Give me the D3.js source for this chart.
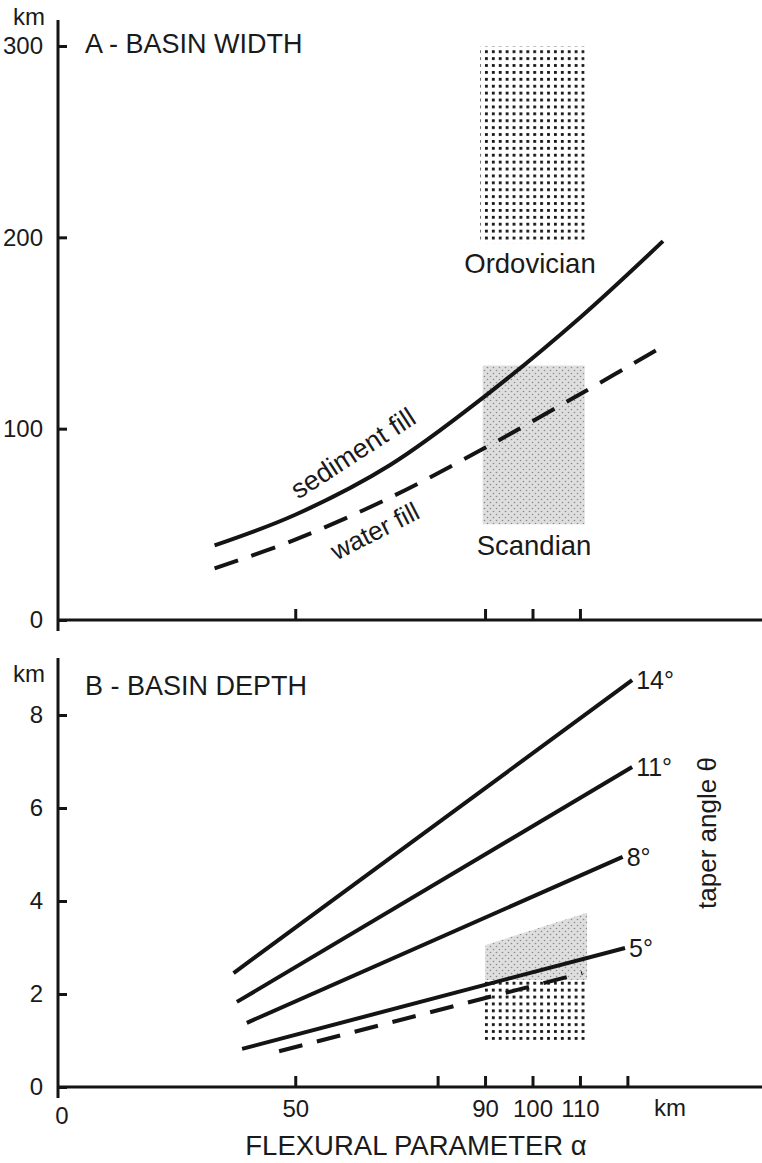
<!DOCTYPE html>
<html>
<head>
<meta charset="utf-8">
<script src="https://cdn.jsdelivr.net/npm/d3@7"></script>
<style>
  body { margin: 0; background: #fff; }
  text { font-family: "Liberation Sans", Arial, sans-serif; fill: #1a1a1a; }
</style>
</head>
<body>
<svg id="chart"></svg>
<script>
// --- data ---
const widthTicks = [0, 100, 200, 300];
const depthTicks = [0, 2, 4, 6, 8];
const alphaTicksA = [50, 90, 100, 110];
const alphaTicksB = [50, 80, 90, 100, 110, 120];
const alphaLabels = [50, 90, 100, 110];

// panel A: basin width (km) vs flexural parameter (km)
const sedimentFill = [[33,39],[50,55],[70,81],[90,117],[110,158],[127.5,198]];
const waterFill = [[33,27],[50,42],[70,64],[90,90],[110,118],[127.5,143]];
const ordovicianBox = {a0: 89, a1: 111, w0: 197, w1: 300};
const scandianBox = {a0: 89.5, a1: 111, w0: 50, w1: 133};

// panel B: basin depth (km) for taper angles
const taperLabels = ["14°", "11°", "8°", "5°"];
const taperLines = [
  [[37,2.45],[121,8.75]],
  [[37.7,1.83],[121,6.88]],
  [[39.8,1.38],[119,4.95]],
  [[38.8,0.82],[119.5,2.99]]
];
const waterDepth = [[46.6,0.77],[110.5,2.45]];
const scandianDepth = [[90,2.3],[90,3.05],[111.5,3.75],[111.5,2.3]];
const ordovicianDepthBox = {a0: 89.6, a1: 111.5, d0: 1.0, d1: 2.3};

const W = 762, H = 1163;
const svg = d3.select("#chart").attr("width", W).attr("height", H);

const defs = svg.append("defs");
const blackDots = defs.append("pattern").attr("id", "blackDots")
  .attr("patternUnits", "userSpaceOnUse").attr("width", 6.9).attr("height", 6.9);
blackDots.append("rect").attr("x", 2).attr("y", 2).attr("width", 2.8).attr("height", 2.8).attr("fill", "#111");

const grayDots = defs.append("pattern").attr("id", "grayDots")
  .attr("patternUnits", "userSpaceOnUse").attr("width", 6).attr("height", 6);
grayDots.append("rect").attr("width", 6).attr("height", 6).attr("fill", "#dedede");
grayDots.append("circle").attr("cx", 1.5).attr("cy", 1.5).attr("r", 0.8).attr("fill", "#8a8a8a");
grayDots.append("circle").attr("cx", 4.5).attr("cy", 4.5).attr("r", 0.8).attr("fill", "#8a8a8a");

const x = d3.scaleLinear().domain([0, 100]).range([58, 532.5]);
const yA = d3.scaleLinear().domain([0, 300]).range([620, 46]);
const yB = d3.scaleLinear().domain([0, 8]).range([1087, 715]);

const ink = "#141414";

// ---------- panel A ----------
const gA = svg.append("g");

gA.append("rect")
  .attr("x", x(scandianBox.a0)).attr("y", yA(scandianBox.w1))
  .attr("width", x(scandianBox.a1) - x(scandianBox.a0))
  .attr("height", yA(scandianBox.w0) - yA(scandianBox.w1))
  .attr("fill", "url(#grayDots)");

gA.append("rect")
  .attr("x", x(ordovicianBox.a0)).attr("y", yA(ordovicianBox.w1))
  .attr("width", x(ordovicianBox.a1) - x(ordovicianBox.a0))
  .attr("height", yA(ordovicianBox.w0) - yA(ordovicianBox.w1))
  .attr("fill", "url(#blackDots)");

const lineA = d3.line().x(d => x(d[0])).y(d => yA(d[1])).curve(d3.curveCatmullRom);

gA.append("path").attr("d", lineA(sedimentFill))
  .attr("fill", "none").attr("stroke", ink).attr("stroke-width", 4);
gA.append("path").attr("d", lineA(waterFill))
  .attr("fill", "none").attr("stroke", ink).attr("stroke-width", 4)
  .attr("stroke-dasharray", "25,14");

// axes A
gA.append("line").attr("x1", 58).attr("x2", 58).attr("y1", 20).attr("y2", 631)
  .attr("stroke", ink).attr("stroke-width", 3);
gA.append("line").attr("x1", 57).attr("x2", W).attr("y1", yA(0)).attr("y2", yA(0))
  .attr("stroke", ink).attr("stroke-width", 3);

gA.append("g").attr("transform", "translate(58,0)")
  .call(d3.axisLeft(yA).tickValues(widthTicks).tickSizeInner(-9).tickSizeOuter(0).tickPadding(15));
gA.append("g").attr("transform", `translate(0,${yA(0)})`)
  .call(d3.axisBottom(x).tickValues(alphaTicksA).tickSizeInner(-11).tickSizeOuter(0).tickFormat(""));

gA.append("text").attr("x", 45).attr("y", 25).attr("text-anchor", "end")
  .style("font-size", "24px").text("km");
gA.append("text").attr("x", 85).attr("y", 53).style("font-size", "27px").text("A - BASIN WIDTH");
gA.append("text").attr("x", 530).attr("y", 273).attr("text-anchor", "middle")
  .style("font-size", "27.5px").text("Ordovician");
gA.append("text").attr("x", 534).attr("y", 555).attr("text-anchor", "middle")
  .style("font-size", "27.5px").text("Scandian");
gA.append("text").attr("transform", "translate(358,461) rotate(-33)").attr("text-anchor", "middle")
  .style("font-size", "27px").text("sediment fill");
gA.append("text").attr("transform", "translate(379,539) rotate(-27)").attr("text-anchor", "middle")
  .style("font-size", "26px").text("water fill");

// ---------- panel B ----------
const gB = svg.append("g");

gB.append("path")
  .attr("d", d3.line().x(d => x(d[0])).y(d => yB(d[1]))(scandianDepth) + "Z")
  .attr("fill", "url(#grayDots)");
gB.append("rect")
  .attr("x", x(ordovicianDepthBox.a0)).attr("y", yB(ordovicianDepthBox.d1))
  .attr("width", x(ordovicianDepthBox.a1) - x(ordovicianDepthBox.a0))
  .attr("height", yB(ordovicianDepthBox.d0) - yB(ordovicianDepthBox.d1))
  .attr("fill", "url(#blackDots)");

const lineB = d3.line().x(d => x(d[0])).y(d => yB(d[1]));

gB.selectAll("path.taper").data(taperLines).join("path").attr("class", "taper")
  .attr("d", d => lineB(d))
  .attr("fill", "none").attr("stroke", ink).attr("stroke-width", 4);
gB.append("path").attr("d", lineB(waterDepth))
  .attr("fill", "none").attr("stroke", ink).attr("stroke-width", 4)
  .attr("stroke-dasharray", "24,15");

gB.selectAll("text.taperLab").data(taperLines).join("text").attr("class", "taperLab")
  .attr("x", d => x(d[d.length - 1][0]) + 4)
  .attr("y", d => yB(d[d.length - 1][1]))
  .attr("dy", "0.35em")
  .style("font-size", "25px")
  .text((d, i) => taperLabels[i]);

// axes B
gB.append("line").attr("x1", 58).attr("x2", 58).attr("y1", 658).attr("y2", 1098)
  .attr("stroke", ink).attr("stroke-width", 3);
gB.append("line").attr("x1", 57).attr("x2", W).attr("y1", yB(0)).attr("y2", yB(0))
  .attr("stroke", ink).attr("stroke-width", 3);

gB.append("g").attr("transform", "translate(58,0)")
  .call(d3.axisLeft(yB).tickValues(depthTicks).tickSizeInner(-9).tickSizeOuter(0).tickPadding(15));
gB.append("g").attr("transform", `translate(0,${yB(0)})`)
  .call(d3.axisBottom(x).tickValues(alphaTicksB).tickSizeInner(-11).tickSizeOuter(0).tickPadding(13)
    .tickFormat(d => alphaLabels.includes(d) ? d : ""));

gB.append("text").attr("x", 45).attr("y", 682).attr("text-anchor", "end")
  .style("font-size", "24px").text("km");
gB.append("text").attr("x", 85).attr("y", 695).style("font-size", "27px").text("B - BASIN DEPTH");
gB.append("text").attr("x", 62).attr("y", 1124).attr("text-anchor", "middle")
  .style("font-size", "24px").text("0");
gB.append("text").attr("x", 670).attr("y", 1116).attr("text-anchor", "middle")
  .style("font-size", "24px").text("km");
gB.append("text").attr("x", 416).attr("y", 1155).attr("text-anchor", "middle")
  .style("font-size", "27.5px").text("FLEXURAL PARAMETER α");
gB.append("text").attr("transform", "translate(716,833) rotate(-90)").attr("text-anchor", "middle")
  .style("font-size", "26px").text("taper angle θ");

// axis styling
svg.selectAll(".domain").remove();
svg.selectAll(".tick line").attr("stroke", ink).attr("stroke-width", 3);
svg.selectAll(".tick text").style("font-size", "24px").attr("fill", "#1a1a1a")
  .style("font-family", "'Liberation Sans', Arial, sans-serif");
</script>
</body>
</html>
